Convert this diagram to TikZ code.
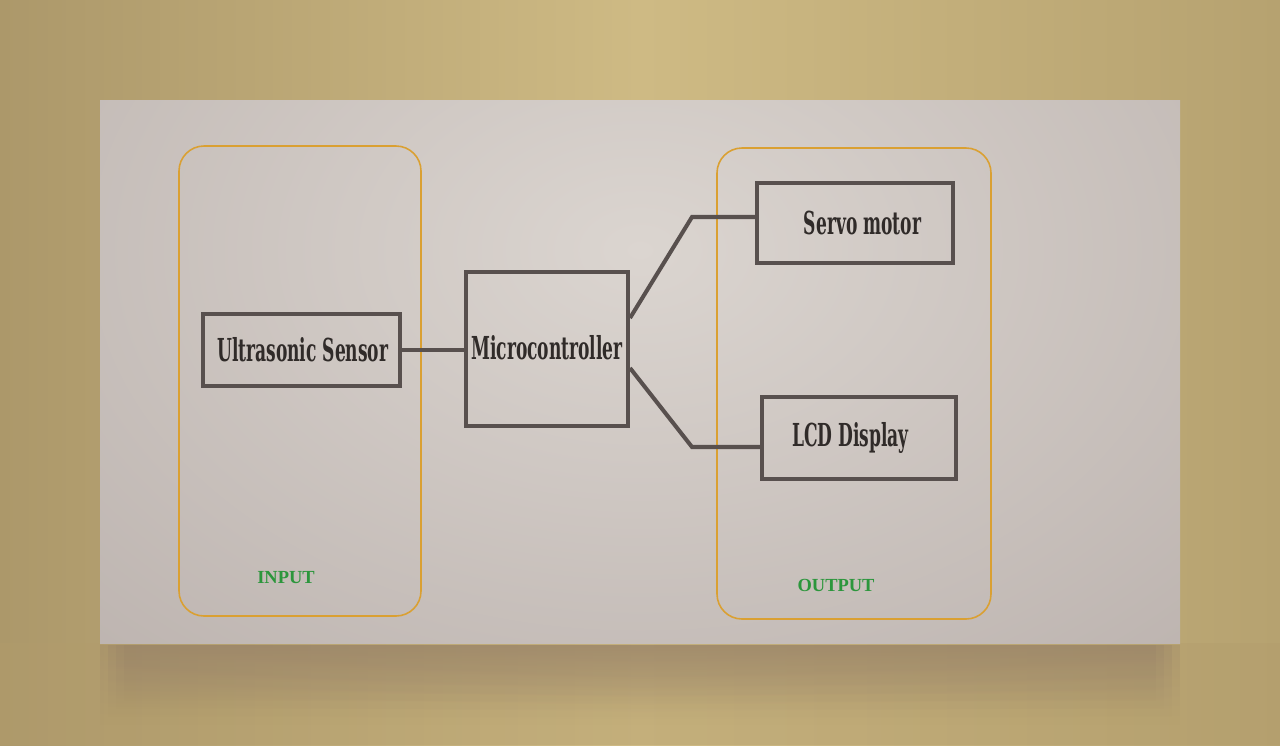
\documentclass[tikz,border=0pt]{standalone}
\usepackage{fontspec}
\usetikzlibrary{fadings}
\newfontfamily\boxfont[FakeStretch=0.54]{DejaVu Serif}
\newfontfamily\tagfont{Liberation Serif}
\definecolor{wallL}{RGB}{172,152,106}
\definecolor{wallM}{RGB}{206,186,132}
\definecolor{wallR}{RGB}{182,162,112}
\definecolor{floorcol}{RGB}{178,156,108}
\definecolor{shadowcol}{RGB}{150,128,104}
\definecolor{cardin}{RGB}{219,213,208}
\definecolor{cardout}{RGB}{178,168,164}
\definecolor{boxline}{RGB}{88,80,78}
\definecolor{boxtext}{RGB}{48,43,41}
\definecolor{grouporange}{RGB}{218,160,50}
\definecolor{taggreen}{RGB}{44,150,60}
\begin{document}
\begin{tikzpicture}[x=0.02cm, y=-0.02cm,
    box/.style={draw=boxline, line width=2.3pt, text=boxtext, font=\boxfont\bfseries\fontsize{18}{21}\selectfont, inner sep=0pt},
    group/.style={draw=grouporange, line width=0.9pt, rounded corners=0.5cm},
    tag/.style={text=taggreen, font=\tagfont\bfseries\fontsize{10.5}{12}\selectfont},
    wire/.style={draw=boxline, line width=2.3pt}]
    \useasboundingbox (0,0) rectangle (1280,745);
    % background
    \shade[left color=wallL, right color=wallR, middle color=wallM] (0,0) rectangle (1280,745);
    \fill[floorcol, opacity=0.35] (0,643) rectangle (1280,745);
    \foreach \d in {0,8,16,24}
        \fill[shadowcol, path fading=south, opacity=0.25] (100+\d,645) rectangle (1180-\d,725-\d);
    \begin{scope}
        \clip (100,100) rectangle (1180,643);
        \fill[cardout] (100,100) rectangle (1180,643);
        \shade[inner color=cardin, outer color=cardout] (640,250) ellipse [x radius=1100, y radius=760];
    \end{scope}
    % groups
    \draw[group] (179,146) rectangle (421,616);
    \draw[group] (717,148) rectangle (991,619);
    \node[tag] (in) at (286,578) {INPUT};
    \node[tag] (out) at (836,585) {OUTPUT};
    % blocks
    \node[box, minimum width=3.94cm, minimum height=1.44cm] (sensor) at (301.5,350) {\hspace{0.05cm}Ultrasonic Sensor};
    \node[box, minimum width=3.24cm, minimum height=3.08cm] (micro) at (547,349) {\raisebox{0.08cm}{Microcontroller}};
    \node[box, minimum width=3.92cm, minimum height=1.6cm] (servo) at (855,223) {\hspace{0.3cm}Servo motor};
    \node[box, minimum width=3.88cm, minimum height=1.64cm] (lcd) at (859,438) {\raisebox{0.14cm}{LCD Display}\rule{0.34cm}{0pt}};
    \coordinate (b1) at (692,217);
    \coordinate (b2) at (692,447);
    \draw[wire] (sensor.east) -- (sensor.east -| micro.west);
    \draw[wire] ([yshift=0.62cm]micro.east) -- (b1) -- (b1 -| servo.west);
    \draw[wire] ([yshift=-0.38cm]micro.east) -- (b2) -- (b2 -| lcd.west);
\end{tikzpicture}
\end{document}
